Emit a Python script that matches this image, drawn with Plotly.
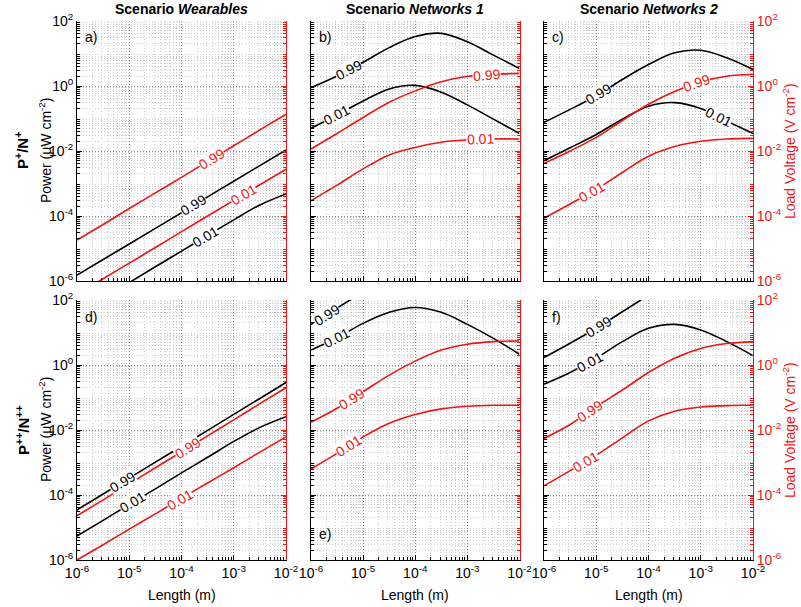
import numpy as np
import plotly.graph_objects as go

# ---------------- data (log10 of the plotted values) ----------------
log_length = [-6, -5.5, -5, -4.5, -4, -3.5, -3, -2.5, -2]
length_m = [10 ** v for v in log_length]

# Panel a) Wearables, P+/N+
a_pow_099 = [-5.82, -5.34, -4.86, -4.38, -3.90, -3.41, -2.93, -2.45, -1.97]
a_pow_001 = [None, None, -6.05, -5.56, -5.08, -4.60, -4.12, -3.66, -3.32]
a_vol_099 = [-4.74, -4.26, -3.77, -3.29, -2.81, -2.32, -1.84, -1.35, -0.87]
a_vol_001 = [-6.41, -5.93, -5.45, -4.97, -4.48, -4.00, -3.52, -3.04, -2.56]
# Panel b) Networks 1, P+/N+
b_pow_099 = [-0.05, 0.31, 0.73, 1.18, 1.52, 1.62, 1.36, 0.95, 0.54]
b_pow_001 = [-1.30, -0.89, -0.46, -0.09, 0.02, -0.19, -0.58, -1.02, -1.46]
b_vol_099 = [-1.94, -1.46, -0.97, -0.50, -0.15, 0.13, 0.29, 0.36, 0.39]
b_vol_001 = [-3.53, -3.05, -2.55, -2.12, -1.89, -1.73, -1.66, -1.63, -1.63]
# Panel c) Networks 2, P+/N+
c_pow_099 = [-1.12, -0.72, -0.30, 0.20, 0.66, 1.02, 1.10, 0.87, 0.51]
c_pow_001 = [-2.30, -1.90, -1.49, -1.02, -0.62, -0.51, -0.69, -1.08, -1.46]
c_vol_099 = [-2.38, -2.00, -1.58, -1.06, -0.56, -0.17, 0.13, 0.30, 0.36]
c_vol_001 = [-4.07, -3.63, -3.18, -2.66, -2.16, -1.86, -1.70, -1.63, -1.61]
# Panel d) Wearables, P++/N++
d_pow_099 = [-4.46, -3.97, -3.48, -2.99, -2.50, -2.01, -1.52, -1.03, -0.54]
d_pow_001 = [-5.26, -4.78, -4.29, -3.81, -3.32, -2.84, -2.35, -1.92, -1.59]
d_vol_099 = [-4.64, -4.15, -3.66, -3.16, -2.67, -2.18, -1.69, -1.19, -0.70]
d_vol_001 = [-6.00, -5.53, -5.05, -4.58, -4.10, -3.63, -3.16, -2.68, -2.21]
# Panel e) Networks 1, P++/N++
e_pow_099 = [1.25, 1.75, 2.25, None, None, None, None, None, None]
e_pow_001 = [0.46, 0.84, 1.28, 1.62, 1.77, 1.62, 1.25, 0.82, 0.33]
e_vol_099 = [-1.76, -1.33, -0.82, -0.31, 0.12, 0.46, 0.64, 0.72, 0.74]
e_vol_001 = [-3.20, -2.72, -2.21, -1.79, -1.52, -1.35, -1.27, -1.24, -1.24]
# Panel f) Networks 2, P++/N++
f_pow_099 = [0.23, 0.67, 1.13, 1.64, 2.15, None, None, None, None]
f_pow_001 = [-0.59, -0.23, 0.21, 0.72, 1.13, 1.25, 1.08, 0.72, 0.29]
f_vol_099 = [-2.26, -1.83, -1.28, -0.77, -0.23, 0.21, 0.51, 0.66, 0.72]
f_vol_001 = [-3.72, -3.25, -2.78, -2.24, -1.72, -1.42, -1.29, -1.25, -1.23]

x_tick_vals = [1e-6, 1e-5, 1e-4, 1e-3, 1e-2]
x_tick_text = ["10<sup>-6</sup>", "10<sup>-5</sup>", "10<sup>-4</sup>", "10<sup>-3</sup>", "10<sup>-2</sup>"]
y_tick_vals = [1e-6, 1e-4, 1e-2, 1e0, 1e2]
y_tick_text = ["10<sup>-6</sup>", "10<sup>-4</sup>", "10<sup>-2</sup>", "10<sup>0</sup>", "10<sup>2</sup>"]
scenario_titles = ["<b>Scenario <i>Wearables</i></b>", "<b>Scenario <i>Networks 1</i></b>",
                   "<b>Scenario <i>Networks 2</i></b>"]
row_titles = ["<b>P<sup>+</sup>/N<sup>+</sup></b>", "<b>P<sup>++</sup>/N<sup>++</sup></b>"]
panel_letters = ["a)", "b)", "c)", "d)", "e)", "f)"]
label_099 = "0.99"
label_001 = "0.01"

BLACK = "#000000"
RED = "#f01414"

# each panel: list of (values, is_voltage, label, label position log10(length))
panels = [
    [(a_pow_099, False, label_099, -3.77), (a_pow_001, False, label_001, -3.55),
     (a_vol_099, True, label_099, -3.42), (a_vol_001, True, label_001, -2.82)],
    [(b_pow_099, False, label_099, -5.28), (b_pow_001, False, label_001, -5.51),
     (b_vol_099, True, label_099, -2.63), (b_vol_001, True, label_001, -2.74)],
    [(c_pow_099, False, label_099, -4.96), (c_pow_001, False, label_001, -2.66),
     (c_vol_099, True, label_099, -3.08), (c_vol_001, True, label_001, -5.09)],
    [(d_pow_099, False, label_099, -5.13), (d_pow_001, False, label_001, -4.93),
     (d_vol_099, True, label_099, -3.88), (d_vol_001, True, label_001, -4.04)],
    [(e_pow_099, False, label_099, -5.70), (e_pow_001, False, label_001, -5.51),
     (e_vol_099, True, label_099, -5.22), (e_vol_001, True, label_001, -5.28)],
    [(f_pow_099, False, label_099, -4.96), (f_pow_001, False, label_001, -5.12),
     (f_vol_099, True, label_099, -5.12), (f_vol_001, True, label_001, -5.21)],
]

# ---------------- layout geometry (pixels) ----------------
W, H = 801, 607
col_px = [(77, 286), (311, 519.5), (544, 753)]
row_px = [(21, 281), (300, 560)]
FONT = "Arial, Liberation Sans, sans-serif"

minor_x = [m * 10.0 ** e for e in range(-6, -2) for m in range(2, 10)]
minor_y = [m * 10.0 ** e for e in range(-6, 2) for m in range(2, 10)]

fig = go.Figure()
layout = dict(width=W, height=H, margin=dict(l=0, r=0, t=0, b=0, autoexpand=False),
              paper_bgcolor="white", plot_bgcolor="white", showlegend=False,
              font=dict(family=FONT, size=13, color="black"))
annotations = []

px_per_dec_x = (col_px[0][1] - col_px[0][0]) / 4.0
px_per_dec_y = (row_px[0][1] - row_px[0][0]) / 8.0

MAJ_GRID = "#8a8a8a"
MIN_GRID = "#cdcdcd"
DOTS = "1px,2px"

for i, series in enumerate(panels):
    r, c = divmod(i, 3)
    k = i + 1
    ko = i + 7
    xd = [col_px[c][0] / W, col_px[c][1] / W]
    yd = [1 - row_px[r][1] / H, 1 - row_px[r][0] / H]
    xs = "" if k == 1 else str(k)
    xo = str(ko)
    # main (bottom) x axis
    layout["xaxis" + xs] = dict(
        type="log", range=[-6, -2], domain=xd, anchor="y" + xs, automargin=False,
        showline=True, linecolor=BLACK, linewidth=1, mirror=False,
        ticks="inside", ticklen=5, tickcolor=BLACK, tickwidth=1,
        tickmode="array", tickvals=x_tick_vals, ticktext=x_tick_text,
        showticklabels=(r == 1), tickfont=dict(size=14, color=BLACK),
        showgrid=True, gridcolor=MAJ_GRID, griddash=DOTS, gridwidth=1,
        minor=dict(tickvals=minor_x, ticks="inside", ticklen=3, tickcolor=BLACK,
                   showgrid=True, gridcolor=MIN_GRID, griddash=DOTS, gridwidth=1),
        zeroline=False, fixedrange=True)
    # main (left) y axis : power
    layout["yaxis" + xs] = dict(
        type="log", range=[-6, 2], domain=yd, anchor="x" + xs, automargin=False,
        showline=True, linecolor=BLACK, linewidth=1,
        ticks="inside", ticklen=5, tickcolor=BLACK, tickwidth=1,
        tickmode="array", tickvals=y_tick_vals, ticktext=y_tick_text,
        showticklabels=(c == 0), tickfont=dict(size=14, color=BLACK),
        showgrid=True, gridcolor=MAJ_GRID, griddash=DOTS, gridwidth=1,
        minor=dict(tickvals=minor_y, ticks="inside", ticklen=3, tickcolor=BLACK,
                   showgrid=True, gridcolor=MIN_GRID, griddash=DOTS, gridwidth=1),
        zeroline=False, fixedrange=True)
    # top (red) x axis
    layout["xaxis" + xo] = dict(
        type="log", range=[-6, -2], domain=xd, anchor="y" + xs, overlaying="x" + xs,
        automargin=False,
        side="top", showline=True, linecolor=RED, linewidth=1,
        ticks="inside", ticklen=5, tickcolor=RED, tickwidth=1,
        tickmode="array", tickvals=x_tick_vals, showticklabels=False,
        showgrid=False,
        minor=dict(tickvals=minor_x, ticks="inside", ticklen=3, tickcolor=RED, showgrid=False),
        zeroline=False, fixedrange=True)
    # right (red) y axis : load voltage
    layout["yaxis" + xo] = dict(
        type="log", range=[-6, 2], domain=yd, anchor="x" + xs, overlaying="y" + xs,
        automargin=False,
        side="right", showline=True, linecolor=RED, linewidth=1,
        ticks="inside", ticklen=5, tickcolor=RED, tickwidth=1,
        tickmode="array", tickvals=y_tick_vals, ticktext=y_tick_text,
        showticklabels=(c == 2), tickfont=dict(size=14, color=RED),
        showgrid=False,
        minor=dict(tickvals=minor_y, ticks="inside", ticklen=3, tickcolor=RED, showgrid=False),
        zeroline=False, fixedrange=True)

    for vals, is_volt, lab, lx in series:
        color = RED if is_volt else BLACK
        yax = ("y" + xo) if is_volt else ("y" + xs)
        yv = [10 ** v if v is not None else None for v in vals]
        fig.add_trace(go.Scatter(x=length_m, y=yv, mode="lines", xaxis="x" + xs, yaxis=yax,
                                 line=dict(color=color, width=1.6, shape="spline", smoothing=1.0),
                                 hoverinfo="skip"))
        pts = [(x, v) for x, v in zip(log_length, vals) if v is not None]
        px_ = [p[0] for p in pts]
        pv = [p[1] for p in pts]
        ly = float(np.interp(lx, px_, pv))
        slope = (np.interp(lx + 0.12, px_, pv) - np.interp(lx - 0.12, px_, pv)) / 0.24
        ang = -np.degrees(np.arctan(slope * px_per_dec_y / px_per_dec_x))
        annotations.append(dict(x=lx, y=ly, xref="x" + xs, yref=yax, text=lab,
                                showarrow=False, textangle=float(ang),
                                font=dict(size=14, color=color, family=FONT),
                                bgcolor="white", borderpad=0))

    # panel letter
    if i == 4:
        annotations.append(dict(x=0.03, y=0.06, xref="x" + xs + " domain", yref="y" + xs + " domain",
                                text=panel_letters[i], showarrow=False, xanchor="left", yanchor="bottom",
                                font=dict(size=14, color=BLACK)))
    else:
        annotations.append(dict(x=0.03, y=0.975, xref="x" + xs + " domain", yref="y" + xs + " domain",
                                text=panel_letters[i], showarrow=False, xanchor="left", yanchor="top",
                                font=dict(size=14, color=BLACK)))

# column titles
for c in range(3):
    cx = (col_px[c][0] + col_px[c][1]) / 2 / W
    annotations.append(dict(x=cx, y=1 - 9 / H, xref="paper", yref="paper", text=scenario_titles[c],
                            showarrow=False, xanchor="center", yanchor="middle",
                            font=dict(size=14, color=BLACK)))
    annotations.append(dict(x=cx, y=1 - 595 / H, xref="paper", yref="paper", text="Length (m)",
                            showarrow=False, xanchor="center", yanchor="middle",
                            font=dict(size=14, color=BLACK)))

# row titles and y-axis titles
for r in range(2):
    cy = 1 - (row_px[r][0] + row_px[r][1]) / 2 / H
    annotations.append(dict(x=22 / W, y=cy, xref="paper", yref="paper", text=row_titles[r],
                            showarrow=False, textangle=-90, xanchor="center", yanchor="middle",
                            font=dict(size=15, color=BLACK)))
    annotations.append(dict(x=45 / W, y=cy, xref="paper", yref="paper",
                            text="Power (\u03bcW cm<sup>-2</sup>)",
                            showarrow=False, textangle=-90, xanchor="center", yanchor="middle",
                            font=dict(size=14, color=BLACK)))
    annotations.append(dict(x=789 / W, y=cy, xref="paper", yref="paper",
                            text="Load Voltage (V cm<sup>-2</sup>)",
                            showarrow=False, textangle=-90, xanchor="center", yanchor="middle",
                            font=dict(size=14, color=RED)))

layout["annotations"] = annotations
fig.update_layout(**layout)
fig.write_html("out.html", config={"displayModeBar": False},
               post_script="document.body.style.margin='0px';document.body.style.overflow='hidden';")
